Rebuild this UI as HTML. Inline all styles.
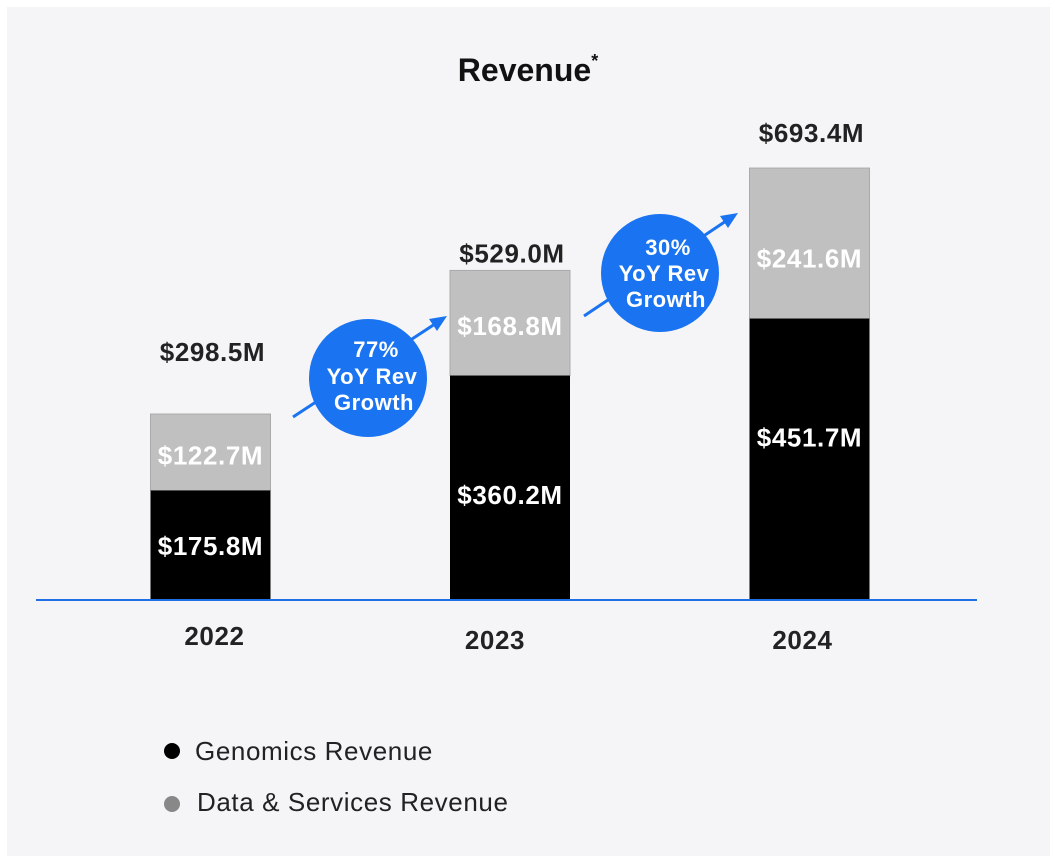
<!DOCTYPE html>
<html><head><meta charset="utf-8"><style>
body{margin:0;background:#fff;width:1055px;height:857px;overflow:hidden;font-family:"Liberation Sans",sans-serif}
</style></head><body>
<svg width="1055" height="857">
<rect x="7" y="7" width="1043" height="849" fill="#f5f5f7"/>
<text x="528" y="81" text-anchor="middle" font-size="32" font-weight="bold" fill="#111">Revenue<tspan font-size="18" dy="-14">*</tspan></text>
<g id="bars"></g>
<line x1="36" y1="600" x2="977" y2="600" stroke="#1f6fe5" stroke-width="2"/>
<g letter-spacing="0.5">
<line x1="293" y1="417" x2="438" y2="322" stroke="#1a73f0" stroke-width="3"/>
<polygon points="447,316 429,319 437,331" fill="#1a73f0"/>
<circle cx="368" cy="378" r="59" fill="#1a73f0"/>
<text x="376" y="357" text-anchor="middle" font-size="22" font-weight="bold" fill="#fff">77%</text>
<text x="372" y="384" text-anchor="middle" font-size="22" font-weight="bold" fill="#fff">YoY Rev</text>
<text x="374" y="410" text-anchor="middle" font-size="22" font-weight="bold" fill="#fff">Growth</text>
</g>
<g letter-spacing="0.5">
<line x1="584" y1="316" x2="729" y2="219" stroke="#1a73f0" stroke-width="3"/>
<polygon points="738,213 720,216 728,228" fill="#1a73f0"/>
<circle cx="660" cy="273" r="59" fill="#1a73f0"/>
<text x="668" y="255" text-anchor="middle" font-size="22" font-weight="bold" fill="#fff">30%</text>
<text x="664" y="281" text-anchor="middle" font-size="22" font-weight="bold" fill="#fff">YoY Rev</text>
<text x="666" y="307" text-anchor="middle" font-size="22" font-weight="bold" fill="#fff">Growth</text>
</g>
<circle cx="172" cy="751" r="8" fill="#000"/>
<text x="195" y="760" font-size="26" letter-spacing="0.6" fill="#222">Genomics Revenue</text>
<circle cx="172" cy="804" r="8" fill="#888"/>
<text x="197" y="811" font-size="26" letter-spacing="0.6" fill="#222">Data &amp; Services Revenue</text>
</svg>
<script>
const years=["2022","2023","2024"];
const genomics=[175.8,360.2,451.7];
const dataServices=[122.7,168.8,241.6];
const totals=[298.5,529.0,693.4];
const NS="http://www.w3.org/2000/svg";
const g=document.getElementById('bars');
const base=600, k=432/693.4;
const y=v=>base-v*k;
const xc=i=>210.5+i*299.5;
const w=120;
const gOff=[1,7,-22], sOff=[3,3,15], tOff=[-53,-8,-26], yrX=[4,-15,-7], yrY=[645,649,649];
function el(t,a,txt){const e=document.createElementNS(NS,t);for(const n in a)e.setAttribute(n,a[n]);if(txt!==undefined)e.textContent=txt;g.appendChild(e);return e;}
const lbl={'text-anchor':'middle','font-size':26,'font-weight':'bold','letter-spacing':0.6};
years.forEach((yr,i)=>{
 const gy=y(genomics[i]), ty=y(genomics[i]+dataServices[i]);
 let r=el('rect',{x:xc(i)-w/2,y:ty,width:w,height:gy-ty,fill:'#c0c0c0',stroke:'#aaa','stroke-width':1});
 
 
 r=el('rect',{x:xc(i)-w/2,y:gy,width:w,height:base-gy,fill:'#000'});
 
 
 let t=el('text',Object.assign({x:xc(i),y:(gy+base)/2+9+gOff[i],fill:'#fff'},lbl),'$'+genomics[i].toFixed(1)+'M');
 
 
 t=el('text',Object.assign({x:xc(i),y:(gy+ty)/2+9+sOff[i],fill:'#fff'},lbl),'$'+dataServices[i].toFixed(1)+'M');
 
 
 t=el('text',Object.assign({x:xc(i)+2,y:ty+tOff[i],fill:'#222'},lbl),'$'+totals[i].toFixed(1)+'M');
 
 
 t=el('text',Object.assign({x:xc(i)+yrX[i],y:yrY[i],fill:'#222'},lbl),yr);
 
 
});
</script>
</body></html>
